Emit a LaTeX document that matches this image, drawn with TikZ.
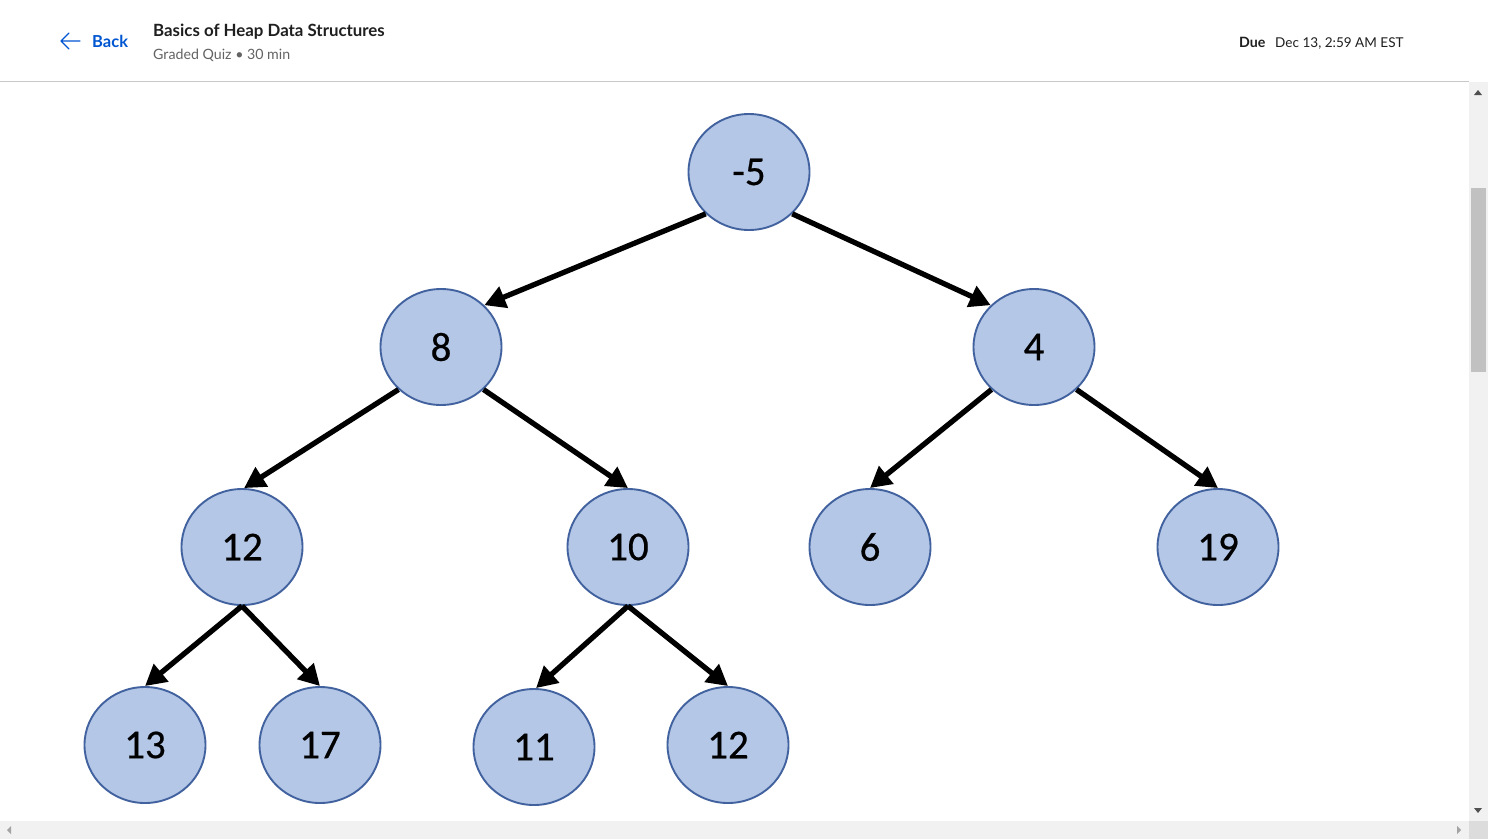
\documentclass[tikz,border=0pt]{standalone}
\usepackage{fontspec}
\setmainfont{Carlito}
\newfontfamily\digitfont[FakeBold=0.5]{Carlito}
\newfontfamily\uifont{Lato}
\usetikzlibrary{shapes.geometric,arrows.meta}

\definecolor{nodefill}{HTML}{B4C7E7}
\definecolor{nodeedge}{HTML}{41629E}
\definecolor{linkblue}{HTML}{0056D2}
\definecolor{inktext}{HTML}{1F1F1F}
\definecolor{subtext}{HTML}{636363}
\definecolor{rulegray}{HTML}{C8C8C8}
\definecolor{track}{HTML}{F1F1F1}
\definecolor{thumb}{HTML}{C1C1C1}
\definecolor{corner}{HTML}{DCDCDC}
\definecolor{scrollarrow}{HTML}{505050}
\definecolor{scrollarrowlight}{HTML}{A3A3A3}

\begin{document}
\begin{tikzpicture}[x=1pt,y=-1pt,
  heapnode/.style={ellipse, draw=nodeedge, fill=nodefill, line width=1.9pt,
    minimum width=121pt, minimum height=116pt, inner sep=0pt,
    font=\digitfont\fontsize{41}{48}\selectfont},
  child/.style={line width=5.3pt, black, -{Triangle[length=21pt,width=22pt]}},
  uitext/.style={anchor=base west, inner sep=0pt},
]
\useasboundingbox (0,0) rectangle (1488,839);
\fill[white] (0,0) rectangle (1488,839);

% ---------- page header ----------
\draw[rulegray, line width=1pt] (0,81) -- (1469,81);
\draw[linkblue, line width=1.4pt, line cap=round, line join=round]
  (80,41) -- (61,41) (69,33) -- (61,41) -- (69,49);
\node[uitext, text=linkblue, font=\uifont\bfseries\fontsize{16.5}{20}\selectfont] (back) at (92,47) {Back};
\node[uitext, text=inktext, font=\uifont\bfseries\fontsize{16.85}{20}\selectfont] (title) at (153,36) {Basics of Heap Data Structures};
\node[uitext, text=subtext, font=\uifont\fontsize{14.2}{18}\selectfont] (sub) at (153,59) {Graded Quiz \textbullet\ 30 min};
\node[uitext, text=inktext, font=\uifont\bfseries\fontsize{14.2}{18}\selectfont] (due) at (1239,47) {Due};
\node[uitext, text=inktext, font=\uifont\fontsize{13.55}{18}\selectfont] (duedate) at (1275,47) {Dec 13, 2:59 AM EST};

% ---------- scroll bars ----------
\fill[track] (1469,82) rectangle (1488,821);
\fill[thumb] (1471,188) rectangle (1486,372);
\fill[scrollarrow] (1474,95) -- (1482,95) -- (1478,90) -- cycle;
\fill[scrollarrow] (1474,808) -- (1482,808) -- (1478,813) -- cycle;
\fill[track] (0,821) rectangle (1469,839);
\fill[corner] (1469,821) rectangle (1488,839);
\fill[scrollarrowlight] (11,826) -- (11,834) -- (7,830) -- cycle;
\fill[scrollarrowlight] (1457,826) -- (1457,834) -- (1461,830) -- cycle;

% ---------- heap ----------
\node[heapnode] (r)   at (749,172) {-5};
\node[heapnode] (a)   at (441,347) {8};
\node[heapnode] (b)   at (1034,347) {4};
\node[heapnode] (aa)  at (242,547) {12};
\node[heapnode] (ab)  at (628,547) {10};
\node[heapnode] (ba)  at (870,547) {6};
\node[heapnode] (bb)  at (1218,547) {19};
\node[heapnode] (aaa) at (145,745) {13};
\node[heapnode] (aab) at (320,745) {17};
\node[heapnode] (aba) at (534,747) {11};
\node[heapnode] (abb) at (728,745) {12};

\draw[child] (r.224)  -- (a.44);
\draw[child] (r.316)  -- (b.136);
\draw[child] (a.225)  -- (aa.88);
\draw[child] (a.315)  -- (ab.90);
\draw[child] (b.225)  -- (ba.90);
\draw[child] (b.315)  -- (bb.90);
\draw[child] (aa.270) -- (aaa.90);
\draw[child] (aa.270) -- (aab.90);
\draw[child] (ab.270) -- (aba.88);
\draw[child] (ab.270) -- (abb.90);
\end{tikzpicture}
\end{document}
